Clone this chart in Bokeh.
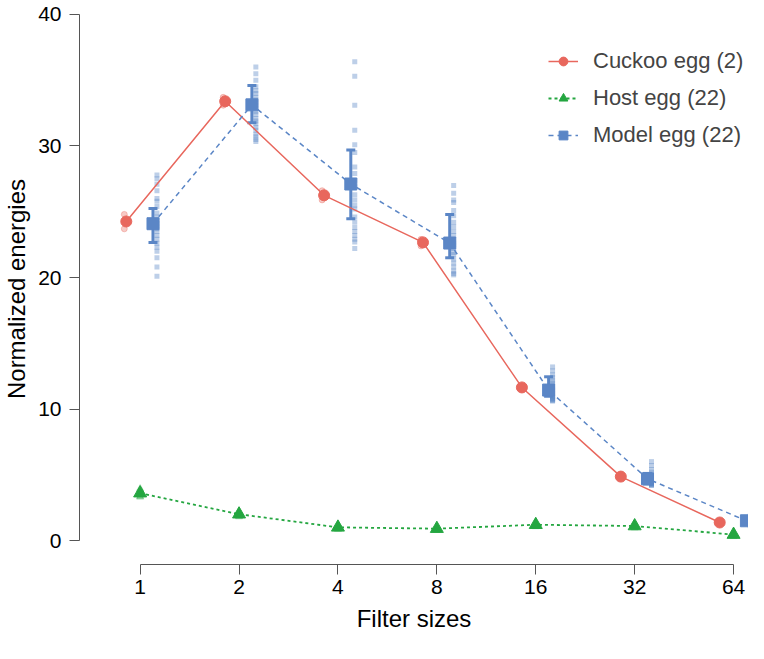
import numpy as np
from bokeh.plotting import figure
from bokeh.models import (Range1d, FixedTicker, ColumnDataSource, Whisker, TeeHead,
                          Legend, LegendItem)
from bokeh.embed import file_html
from bokeh.resources import INLINE

# filter sizes on the x axis (drawn on a log2 scale)
filter_sizes = [1, 2, 4, 8, 16, 32, 64]

# mean normalized energies per filter size
cuckoo_mean = [24.26, 33.4, 26.25, 22.67, 11.64, 4.86, 1.37]
host_mean = [3.6, 2.0, 1.0, 0.9, 1.2, 1.1, 0.45]
model_mean = [24.09, 33.13, 27.11, 22.62, 11.44, 4.69, 1.5]

# error bars of the model eggs
model_lower = [22.67, 31.77, 24.46, 21.5, 10.97, 4.3, 1.3]
model_upper = [25.24, 34.6, 29.69, 24.8, 12.45, 5.1, 1.75]

# individual eggs (faint points)
cuckoo_points = [
    [24.8, 23.7], [33.7, 33.1], [25.9, 26.6], [22.9, 22.4],
    [11.7, 11.55], [4.95, 4.8], [1.4, 1.35],
]
host_points = [
    [3.95, 3.85, 3.75, 3.65, 3.55, 3.45, 3.35, 3.3],
    [2.2, 2.1, 2.05, 2.0, 1.95, 1.9, 1.85, 1.8],
    [1.15, 1.1, 1.05, 1.0, 0.95, 0.9, 0.9, 0.85],
    [1.05, 1.0, 0.95, 0.9, 0.9, 0.85, 0.8, 0.8],
    [1.35, 1.3, 1.25, 1.2, 1.15, 1.1, 1.1, 1.05],
    [1.25, 1.2, 1.15, 1.1, 1.05, 1.0, 1.0, 0.95],
    [0.6, 0.55, 0.5, 0.45, 0.45, 0.4, 0.35, 0.3],
]
model_points = [
    [27.8, 27.5, 27.1, 26.6, 26.0, 25.8, 25.4, 24.9, 24.6, 24.3, 24.1,
     23.9, 23.7, 23.5, 23.2, 22.9, 22.6, 22.3, 22.0, 21.5, 20.8, 20.1],
    [36.0, 35.5, 35.0, 34.5, 34.2, 34.0, 33.7, 33.5, 33.3, 33.1, 32.9,
     32.6, 32.4, 32.1, 31.9, 31.7, 31.4, 31.2, 30.9, 30.7, 30.5, 30.35],
    [36.4, 35.3, 33.1, 31.2, 30.1, 29.5, 28.4, 27.9, 27.4, 26.9, 26.3,
     25.9, 25.5, 25.2, 24.6, 24.2, 23.8, 23.5, 23.2, 22.9, 22.7, 22.2],
    [27.0, 26.4, 25.9, 25.7, 25.1, 24.7, 24.2, 23.85, 23.5, 23.2, 22.9,
     22.6, 22.5, 22.2, 21.9, 21.75, 21.4, 21.1, 20.8, 20.5, 20.3, 20.2],
    [13.2, 12.9, 12.6, 12.4, 12.2, 12.0, 11.9, 11.7, 11.6, 11.5, 11.4,
     11.3, 11.2, 11.1, 11.0, 10.95, 10.9, 10.8, 10.75, 10.7, 10.65, 10.6],
    [6.0, 5.7, 5.4, 5.2, 5.0, 4.95, 4.9, 4.8, 4.75, 4.7, 4.65,
     4.6, 4.55, 4.5, 4.45, 4.4, 4.35, 4.3, 4.3, 4.25, 4.2, 4.2],
    [1.9, 1.8, 1.75, 1.7, 1.65, 1.6, 1.6, 1.55, 1.5, 1.5, 1.45,
     1.45, 1.4, 1.4, 1.35, 1.35, 1.3, 1.3, 1.25, 1.2, 1.15, 1.1],
]

RED = "#E8675D"
GREEN = "#24A640"
BLUE = "#5B86C6"
FONT = "Liberation Sans"

lx = np.log2(filter_sizes)


def flat(points, shift):
    xs, ys = [], []
    for x, vals in zip(lx, points):
        xs += [x + shift] * len(vals)
        ys += vals
    return xs, ys


p = figure(width=748, height=643, output_backend="svg", toolbar_location=None,
           x_range=Range1d(-0.613, 6.151), y_range=Range1d(-1.825, 40.076),
           min_border_left=75, min_border_right=0, min_border_top=13,
           min_border_bottom=79)
p.outline_line_color = None
p.grid.visible = False

# faint individual eggs
hx, hy = flat(host_points, 0.0)
p.scatter(hx, hy, marker="triangle", size=7, color=GREEN, alpha=0.25)
cx, cy = flat(cuckoo_points, -0.16)
p.scatter(cx, cy, size=6, color=RED, alpha=0.35)
mx, my = flat(model_points, 0.17)
p.scatter(mx, my, marker="square", size=5, color=BLUE, alpha=0.4, line_color=None)

# mean lines
r_cl = p.line(lx - 0.14, cuckoo_mean, color=RED, line_width=1.5)
r_hl = p.line(lx, host_mean, color=GREEN, line_width=1.8, line_dash="3 3")
r_ml = p.line(lx + 0.13, model_mean, color=BLUE, line_width=1.5, line_dash="5 4")

# model error bars
src = ColumnDataSource(dict(x=lx + 0.13, lower=model_lower, upper=model_upper))
p.add_layout(Whisker(source=src, base="x", lower="lower", upper="upper",
                     line_color=BLUE, line_width=3,
                     lower_head=TeeHead(size=9, line_color=BLUE, line_width=3),
                     upper_head=TeeHead(size=9, line_color=BLUE, line_width=3)))

r_cm = p.scatter(lx - 0.14, cuckoo_mean, size=11, color=RED)
r_hm = p.scatter(lx, host_mean, marker="triangle", size=13, color=GREEN)
r_mm = p.scatter(lx + 0.13, model_mean, marker="square", size=12, color=BLUE)

# axes, R style (detached, spanning only the ticks)
p.xaxis.ticker = FixedTicker(ticks=list(lx))
p.xaxis.bounds = (0, 6)
p.xaxis.major_label_overrides = {float(x): str(s) for x, s in zip(lx, filter_sizes)}
p.yaxis.ticker = FixedTicker(ticks=[0, 10, 20, 30, 40])
p.yaxis.bounds = (0, 40)
p.xaxis.axis_label = "Filter sizes"
p.yaxis.axis_label = "Normalized energies"
for ax in (p.xaxis, p.yaxis):
    ax.axis_line_color = "#555555"
    ax.major_tick_line_color = "#555555"
    ax.minor_tick_line_color = None
    ax.major_tick_in = 0
    ax.major_tick_out = 10
    ax.major_label_text_font = FONT
    ax.major_label_text_font_size = "21px"
    ax.major_label_text_color = "black"
    ax.axis_label_text_font = FONT
    ax.axis_label_text_font_size = "24px"
    ax.axis_label_text_font_style = "normal"
    ax.axis_label_text_color = "black"
p.xaxis.major_label_standoff = 5
p.xaxis.axis_label_standoff = 8
p.yaxis.major_label_standoff = 8
p.yaxis.axis_label_standoff = 5

legend = Legend(items=[
    LegendItem(label="Cuckoo egg (2)", renderers=[r_cl, r_cm]),
    LegendItem(label="Host egg (22)", renderers=[r_hl, r_hm]),
    LegendItem(label="Model egg (22)", renderers=[r_ml, r_mm]),
], location=(469, 416))
legend.padding = 0
legend.margin = 0
legend.spacing = 11
legend.glyph_width = 30
legend.glyph_height = 22
legend.label_height = 22
legend.label_standoff = 15
legend.label_text_font = FONT
legend.label_text_font_size = "22px"
legend.border_line_color = None
legend.background_fill_alpha = 0
p.add_layout(legend)

open("out.html", "w").write(file_html(p, INLINE))
